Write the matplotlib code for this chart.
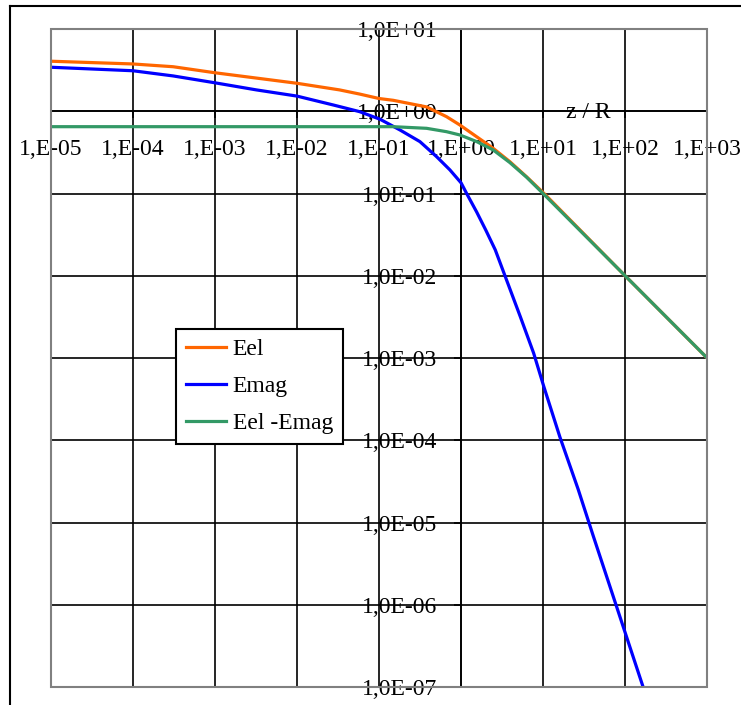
import numpy as np
import matplotlib
matplotlib.use("Agg")
import matplotlib.pyplot as plt
from matplotlib.lines import Line2D
from matplotlib.patches import Rectangle
from matplotlib.ticker import FixedLocator, FixedFormatter, NullLocator

plt.rcParams['font.family'] = ['Liberation Serif', 'DejaVu Serif']

# ---- data ----
z_el = [1e-5, 1e-4, 3.1e-4, 1e-3, 1e-2, 3.3e-2, 5.8e-2, 0.1, 0.149, 0.38, 0.665,
        0.97, 1.55, 2.46, 3.93, 6.28, 10.5, 100, 1000]
e_el = [4.06, 3.76, 3.48, 2.94, 2.19, 1.82, 1.62, 1.43, 1.36, 1.13, 0.86,
        0.68, 0.49, 0.355, 0.244, 0.160, 0.098, 0.0100, 0.00100]

z_mag = [1e-5, 1e-4, 3.1e-4, 1e-3, 3.2e-3, 1e-2, 2.8e-2, 5.8e-2, 0.103, 0.18, 0.315,
         0.503, 0.731, 1.0, 1.17, 1.545, 2.0, 2.61, 3.46, 5.27, 7.66, 10.2,
         16.0, 26.7, 40.6, 72.8, 165.6, 182.0]
e_mag = [3.43, 3.11, 2.69, 2.22, 1.82, 1.53, 1.19, 0.99, 0.80, 0.593, 0.428,
         0.281, 0.194, 0.135, 0.100, 0.060, 0.036, 0.0207, 0.00977, 0.00319,
         0.00115, 4.5e-4, 1.1e-4, 2.55e-5, 7.0e-6, 1.2e-6, 1.0e-7, 7.4e-8]

z_diff = [1e-5, 0.058, 0.149, 0.38, 0.665, 0.97, 1.55, 2.46, 3.93, 6.28, 10, 100, 1000]
e_diff = [0.65, 0.65, 0.65, 0.621, 0.565, 0.515, 0.428, 0.339, 0.238, 0.158, 0.1, 0.01, 0.001]

x_ticks = [1e-5, 1e-4, 1e-3, 1e-2, 1e-1, 1e0, 1e1, 1e2, 1e3]
x_labels = ["1,E-05", "1,E-04", "1,E-03", "1,E-02", "1,E-01", "1,E+00", "1,E+01", "1,E+02", "1,E+03"]
y_ticks = [1e1, 1e0, 1e-1, 1e-2, 1e-3, 1e-4, 1e-5, 1e-6, 1e-7]
y_labels = ["1,0E+01", "1,0E+00", "1,0E-01", "1,0E-02", "1,0E-03", "1,0E-04", "1,0E-05", "1,0E-06", "1,0E-07"]

series_names = ["Eel", "Emag", "Eel -Emag"]
colors = ["#FF6600", "#0000FF", "#339966"]

W, H = 741, 705
FS = 17
fig = plt.figure(figsize=(W / 100, H / 100), dpi=100)
ax = fig.add_axes([50.7 / W, 1 - 687.3 / H, (707.3 - 50.7) / W, (687.3 - 29) / H])
ax.set_xscale('log')
ax.set_yscale('log')
ax.set_xlim(1e-5, 1e3)
ax.set_ylim(1e-7, 1e1)

ax.plot(z_el, e_el, color=colors[0], lw=2.3, label=series_names[0], zorder=3)
ax.plot(z_mag, e_mag, color=colors[1], lw=2.3, label=series_names[1], zorder=3)
ax.plot(z_diff, e_diff, color=colors[2], lw=2.3, label=series_names[2], zorder=3)

ax.xaxis.set_major_locator(FixedLocator(x_ticks))
ax.xaxis.set_major_formatter(FixedFormatter(x_labels))
ax.yaxis.set_major_locator(FixedLocator(y_ticks))
ax.yaxis.set_major_formatter(FixedFormatter(y_labels))
ax.xaxis.set_minor_locator(NullLocator())
ax.yaxis.set_minor_locator(NullLocator())

ax.grid(True, which='major', color='black', lw=1.2, zorder=1)
ax.set_axisbelow(True)

for s in ['top', 'right']:
    ax.spines[s].set_visible(False)
ax.spines['left'].set_position(('data', 1.0))
ax.spines['bottom'].set_position(('data', 1.0))
ax.spines['left'].set_color('black')
ax.spines['bottom'].set_color('black')
ax.spines['left'].set_linewidth(1.2)
ax.spines['bottom'].set_linewidth(1.2)

ax.tick_params(axis='x', direction='out', length=5, width=1.2, labelsize=FS, pad=15)
ax.tick_params(axis='y', direction='out', length=5, width=1.2, labelsize=FS, pad=12)

ax.add_patch(Rectangle((0, 0), 1, 1, transform=ax.transAxes, fill=False,
                       edgecolor='#808080', lw=1.5, clip_on=False, zorder=4))

fig.text(588 / W, 1 - 112 / H, "z / R", ha='center', va='center', fontsize=FS)

leg = ax.legend(loc='upper left', bbox_to_anchor=(175.7 / W, 1 - 329 / H),
                bbox_transform=fig.transFigure, borderaxespad=0, fontsize=FS,
                handlelength=1.7, handletextpad=0.3, labelspacing=0.65,
                borderpad=0.42, fancybox=False, framealpha=1, edgecolor='black')
leg.get_frame().set_linewidth(1.5)
leg.set_zorder(5)

# outer border (clipped at right/bottom)
fig.add_artist(Line2D([10 / W, 1.0], [1 - 5.7 / H, 1 - 5.7 / H], color='black', lw=1.5,
                      transform=fig.transFigure))
fig.add_artist(Line2D([10 / W, 10 / W], [1 - 5.7 / H, 0.0], color='black', lw=1.5,
                      transform=fig.transFigure))

fig.savefig("out.png", dpi=100)
